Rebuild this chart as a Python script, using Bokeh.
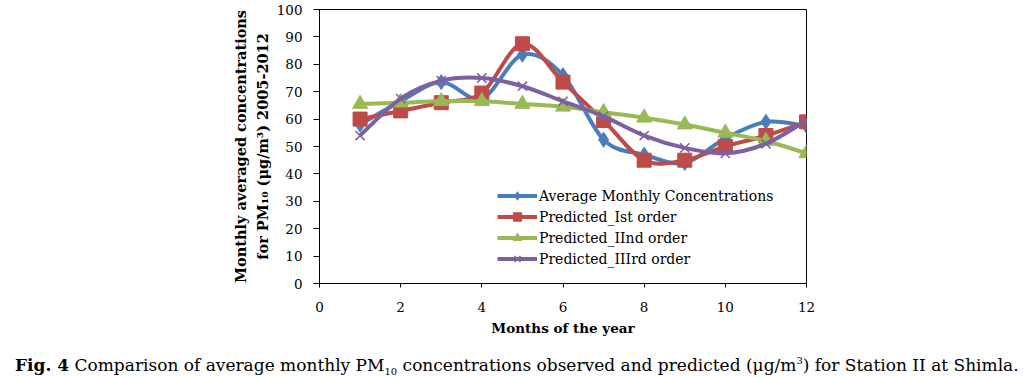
from bokeh.plotting import figure
from bokeh.layouts import column
from bokeh.models import Legend, LegendItem, Title, FixedTicker, Div
from bokeh.embed import file_html
from bokeh.resources import INLINE

months = [1, 2, 3, 4, 5, 6, 7, 8, 9, 10, 11, 12]
average = [58, 66.5, 73.5, 67.5, 83.5, 76, 52.5, 47, 44, 53, 59, 57.5]
first_order = [60, 63, 66, 69.5, 87.5, 73.5, 59.5, 45, 45, 50, 54, 59]
second_order = [65.5, 66, 66.5, 66.5, 65.5, 64.5, 62.5, 60.5, 58, 55, 52, 47.5]
third_order = [54, 67.5, 74, 75, 72, 66.5, 61, 54, 49.5, 47.5, 51, 59.5]

series_names = ["Average Monthly Concentrations", "Predicted_Ist order",
                "Predicted_IInd order", "Predicted_IIIrd order"]
x_ticks = [0, 2, 4, 6, 8, 10, 12]
y_ticks = [0, 10, 20, 30, 40, 50, 60, 70, 80, 90, 100]

BLUE, RED, GREEN, PURPLE = "#4A7EBB", "#BE4B48", "#98B954", "#7D60A0"
FONT = "DejaVu Serif"

p = figure(width=1028, height=345, x_range=(0, 12), y_range=(0, 100),
           output_backend="svg", toolbar_location=None,
           min_border_left=319, min_border_right=222, min_border_top=9,
           min_border_bottom=62)
p.background_fill_color = "white"
p.border_fill_color = "white"
p.outline_line_color = "black"
p.outline_line_width = 1
p.xgrid.visible = False
p.ygrid.visible = False

for ax in (p.xaxis[0], p.yaxis[0]):
    ax.axis_line_color = "black"
    ax.major_tick_line_color = "black"
    ax.minor_tick_line_color = None
    ax.major_tick_in = 0
    ax.major_label_text_font = FONT
    ax.major_label_text_font_size = "13.5px"
    ax.major_label_text_color = "black"

p.xaxis.ticker = FixedTicker(ticks=x_ticks)
p.yaxis.ticker = FixedTicker(ticks=y_ticks)
p.xaxis.major_tick_out = 4
p.yaxis.major_tick_out = 6
p.xaxis.major_label_standoff = 14
p.yaxis.major_label_standoff = 11
p.xaxis.axis_label = "Months of the year"
p.xaxis.axis_label_text_font = FONT
p.xaxis.axis_label_text_font_size = "13.5px"
p.xaxis.axis_label_text_font_style = "bold"
p.xaxis.axis_label_text_color = "black"
p.xaxis.axis_label_standoff = 5


def smooth_segments(xs, ys, t=1.0 / 6.0):
    n = len(xs)
    seg = dict(x0=[], y0=[], x1=[], y1=[], cx0=[], cy0=[], cx1=[], cy1=[])
    for i in range(n - 1):
        im = max(i - 1, 0)
        ip2 = min(i + 2, n - 1)
        seg["x0"].append(xs[i]); seg["y0"].append(ys[i])
        seg["x1"].append(xs[i + 1]); seg["y1"].append(ys[i + 1])
        seg["cx0"].append(xs[i] + (xs[i + 1] - xs[im]) * t)
        seg["cy0"].append(ys[i] + (ys[i + 1] - ys[im]) * t)
        seg["cx1"].append(xs[i + 1] - (xs[ip2] - xs[i]) * t)
        seg["cy1"].append(ys[i + 1] - (ys[ip2] - ys[i]) * t)
    return seg


styles = [
    (average, BLUE, "diamond", 15, 1),
    (first_order, RED, "square", 14, 1),
    (second_order, GREEN, "triangle", 15, 1),
    (third_order, PURPLE, "x", 13, 1.5),
]

items = []
for (vals, col, mk, sz, lw), name in zip(styles, series_names):
    seg = smooth_segments(months, vals)
    br = p.bezier(line_color=col, line_width=4, **seg)
    sr = p.scatter(months, vals, marker=mk, size=sz, fill_color=col,
                   line_color=col, line_width=lw)
    items.append(LegendItem(label=name, renderers=[br, sr]))

legend = Legend(items=items, location=(178, 14))
legend.background_fill_alpha = 0
legend.border_line_alpha = 0
legend.padding = 0
legend.margin = 0
legend.spacing = 0
legend.glyph_width = 40
legend.glyph_height = 21
legend.label_height = 21
legend.label_standoff = 2
legend.label_text_font = FONT
legend.label_text_font_size = "14px"
legend.label_text_color = "black"
p.add_layout(legend, "center")

for txt, so in (("for PM\u2081\u2080 (\u03bcg/m\u00b3) 2005-2012", 5),
                ("Monthly averaged concentrations", 1)):
    p.add_layout(Title(text=txt, align="center", text_font=FONT,
                       text_font_size="14.5px", text_font_style="bold",
                       text_color="black", standoff=so, offset=-8), "left")

caption = Div(
    text="<b>Fig. 4</b> Comparison of average monthly PM<sub style='font-size:10px'>10</sub> "
         "concentrations observed and predicted (\u03bcg/m<sup style='font-size:10px'>3</sup>) "
         "for Station II at Shimla.",
    width=1028, height=32, margin=0,
    styles={"font-family": FONT, "font-size": "17px", "color": "black",
            "padding-left": "15px", "padding-top": "6px",
            "white-space": "nowrap", "line-height": "20px"})

layout = column(p, caption, spacing=0)
open("out.html", "w").write(file_html(layout, INLINE))
